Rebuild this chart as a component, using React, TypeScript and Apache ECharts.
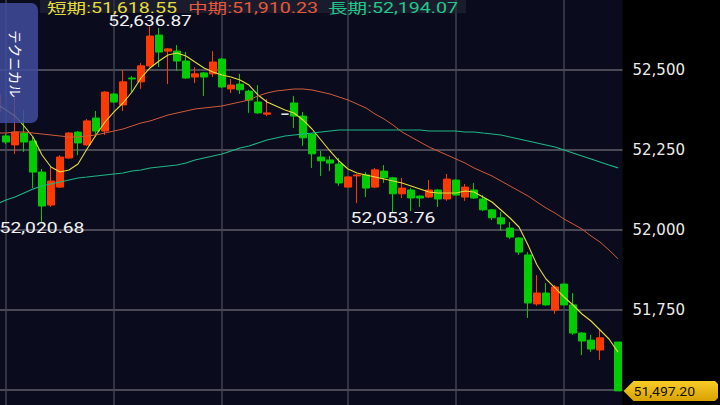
import React, { useEffect, useRef } from 'react';
import * as echarts from 'echarts';

// [open, close, low, high]; null = no bar
const ohlc: (number[] | null)[] = [
  [52369, 52422, 52362, 52428], [52294, 52275, 52269, 52300], [52266, 52306, 52238, 52422],
  [52303, 52275, 52244, 52375], [52278, 52181, 52131, 52291], [52181, 52075, 52020.68, 52191],
  [52078, 52153, 52072, 52197], [52134, 52228, 52131, 52234], [52225, 52303, 52222, 52306],
  [52306, 52272, 52234, 52309], [52266, 52341, 52263, 52347], [52350, 52309, 52291, 52372],
  [52309, 52431, 52297, 52434], [52425, 52400, 52397, 52428], [52391, 52463, 52372, 52500],
  [52475, 52472, 52428, 52481], [52463, 52513, 52441, 52522], [52513, 52606, 52509, 52636.87],
  [52609, 52556, 52509, 52631], [52559, 52566, 52456, 52569], [52559, 52528, 52497, 52578],
  [52528, 52475, 52472, 52556], [52478, 52488, 52459, 52509], [52491, 52478, 52419, 52494],
  [52488, 52525, 52478, 52559], [52534, 52447, 52444, 52538], [52441, 52453, 52428, 52472],
  [52456, 52438, 52425, 52488], [52434, 52406, 52366, 52438], [52400, 52366, 52363, 52453],
  [52362, 52366, 52356, 52409], null, [52362, 52362, 52362, 52362],
  [52397, 52356, 52319, 52419], [52356, 52288, 52263, 52369], [52300, 52238, 52194, 52303],
  [52228, 52216, 52169, 52247], [52219, 52209, 52184, 52231], [52206, 52147, 52138, 52225],
  [52134, 52166, 52133, 52167], [52169, 52172, 52084, 52175], [52172, 52131, 52103, 52181],
  [52134, 52188, 52131, 52194], [52184, 52163, 52147, 52203], [52163, 52113, 52053.76, 52166],
  [52113, 52131, 52100, 52163], [52125, 52100, 52059, 52131], [52106, 52100, 52072, 52108],
  [52103, 52125, 52100, 52156], [52125, 52097, 52072, 52128], [52097, 52159, 52091, 52175],
  [52156, 52109, 52108, 52158], [52103, 52134, 52091, 52144], [52125, 52100, 52097, 52147],
  [52097, 52063, 52059, 52109], [52063, 52038, 52031, 52066], [52038, 52019, 51997, 52056],
  [52006, 51978, 51972, 52025], [51975, 51931, 51922, 51978], [51922, 51772, 51725, 51931],
  [51769, 51803, 51763, 51859], [51803, 51766, 51763, 51834], [51750, 51822, 51738, 51828],
  [51831, 51766, 51764, 51833], [51766, 51678, 51672, 51803], [51678, 51653, 51609, 51681],
  [51656, 51628, 51619, 51672], [51625, 51663, 51594, 51691], null,
  [51650, 51497.2, 51497.2, 51650],
];

const categories = ohlc.map((_, i) => String(i + 1));

const maShort = [
  52393.8, 52375.0, 52356.3, 52325.0, 52290.6, 52234.4, 52196.9, 52181.3, 52187.5, 52206.3,
  52253.1, 52296.9, 52337.5, 52368.8, 52396.9, 52431.3, 52475.0, 52506.3, 52528.1, 52546.9,
  52553.1, 52543.8, 52525.0, 52506.3, 52493.8, 52484.4, 52478.1, 52468.8, 52453.1, 52421.9,
  52400.0, 52387.5, 52375.0, 52365.6, 52343.8, 52315.6, 52281.3, 52246.9, 52215.6, 52190.6,
  52178.1, 52171.9, 52165.6, 52159.4, 52153.1, 52146.9, 52137.5, 52128.1, 52118.8, 52115.6,
  52115.6, 52115.6, 52121.9, 52118.8, 52103.1, 52087.5, 52062.5, 52037.5, 52009.4, 51953.1,
  51890.6, 51846.9, 51818.8, 51790.6, 51765.6, 51737.5, 51715.6, 51687.5, 51659.4, 51618.55,
];

const maMid = [
  52303.1, 52303.1, 52306.3, 52306.3, 52303.1, 52300.0, 52296.9, 52293.8, 52290.6, 52290.6,
  52293.8, 52296.9, 52303.1, 52309.4, 52315.6, 52325.0, 52334.4, 52340.6, 52350.0, 52359.4,
  52365.6, 52371.9, 52378.1, 52381.3, 52384.4, 52387.5, 52393.8, 52400.0, 52406.3, 52418.8,
  52428.1, 52434.4, 52437.5, 52440.6, 52440.6, 52437.5, 52431.3, 52425.0, 52415.6, 52406.3,
  52393.8, 52381.3, 52362.5, 52346.9, 52328.1, 52306.3, 52290.6, 52275.0, 52259.4, 52246.9,
  52234.4, 52221.9, 52209.4, 52193.8, 52181.3, 52168.8, 52153.1, 52137.5, 52121.9, 52106.3,
  52087.5, 52068.8, 52053.1, 52034.4, 52018.8, 52003.1, 51981.3, 51962.5, 51937.5, 51910.23,
];

const maLong = [
  52081.3, 52093.8, 52103.1, 52115.6, 52128.1, 52137.5, 52143.8, 52150.0, 52156.3, 52162.5,
  52165.6, 52168.8, 52171.9, 52175.0, 52178.1, 52184.4, 52187.5, 52193.8, 52196.9, 52200.0,
  52203.1, 52209.4, 52218.8, 52225.0, 52231.3, 52237.5, 52246.9, 52256.3, 52262.5, 52271.9,
  52281.3, 52287.5, 52293.8, 52296.9, 52300.0, 52303.1, 52306.3, 52309.4, 52312.5, 52312.5,
  52312.5, 52312.5, 52312.5, 52312.5, 52312.5, 52312.5, 52312.5, 52312.5, 52309.4, 52309.4,
  52309.4, 52309.4, 52306.3, 52306.3, 52303.1, 52300.0, 52296.9, 52290.6, 52284.4, 52278.1,
  52271.9, 52265.6, 52259.4, 52250.0, 52240.6, 52231.3, 52221.9, 52212.5, 52203.1, 52194.07,
];

const yMin = 51500;
const yMax = 52500;
const yInterval = 250;
const lastPrice = 51497.2;
const dojiIndex = 32;
const highMarks = [{ index: 17, value: 52636.87 }];
const lowMarks = [{ index: 5, value: 52020.68 }, { index: 44, value: 52053.76 }];
const vGridIndex = [1, 13, 25, 39, 51, 63];

const UP = '#ff3a00';
const DOWN = '#00cc00';
const C_SHORT = '#e6dc3a';
const C_MID = '#cf5a3a';
const C_LONG = '#1fb585';

const fmt2 = (v: number) =>
  v.toLocaleString('en-US', { minimumFractionDigits: 2, maximumFractionDigits: 2 });

export default function App() {
  const ref = useRef<HTMLDivElement>(null);
  useEffect(() => {
    if (!ref.current) return;
    const W = 720;
    const H = 405;
    const plotRight = 622.5;
    const chart = echarts.init(ref.current, null, { renderer: 'svg' });
    const candleData = ohlc.map((d, i) => {
      if (!d) return ['-', '-', '-', '-'];
      if (i === dojiIndex)
        return {
          value: d,
          itemStyle: {
            color: '#ffffff', color0: '#ffffff', borderColor: '#ffffff',
            borderColor0: '#ffffff', borderColorDoji: '#ffffff',
          },
        };
      return d;
    });
    chart.setOption({
      animation: false,
      backgroundColor: '#000000',
      grid: {
        left: -7.5, right: W - plotRight, top: 70, bottom: 15,
        containLabel: false, outerBoundsMode: 'none',
      },
      xAxis: {
        type: 'category', data: categories, boundaryGap: true,
        axisLine: { show: false }, axisTick: { show: false },
        axisLabel: { show: false }, splitLine: { show: false },
      },
      yAxis: {
        type: 'value', position: 'right', min: yMin, max: yMax, interval: yInterval,
        axisLine: { show: false }, axisTick: { show: false },
        axisLabel: {
          color: '#ececec', fontSize: 15, fontFamily: 'DejaVu Sans', margin: 10,
          formatter: (v: number) => v.toLocaleString('en-US'),
        },
        splitLine: { lineStyle: { color: '#4a4a56', width: 2 } },
      },
      series: [
        {
          type: 'candlestick', data: candleData, barWidth: 8, clip: false,
          itemStyle: { color: UP, color0: DOWN, borderColor: UP, borderColor0: DOWN, borderWidth: 1 },
          markLine: {
            silent: true, symbol: ['none', 'none'], label: { show: false },
            lineStyle: { color: '#d9a400', type: [9, 9], width: 1.5 },
            data: [{ yAxis: lastPrice }],
          },
        },
        { type: 'line', data: maShort, symbol: 'none', clip: false, lineStyle: { color: C_SHORT, width: 1.1 } },
        { type: 'line', data: maMid, symbol: 'none', clip: false, lineStyle: { color: C_MID, width: 1 } },
        { type: 'line', data: maLong, symbol: 'none', clip: false, lineStyle: { color: C_LONG, width: 1.2 } },
      ],
    });

    const px = (i: number, v: number) =>
      chart.convertToPixel({ xAxisIndex: 0, yAxisIndex: 0 }, [i, v]) as number[];

    const elements: any[] = [
      { type: 'rect', z: -10, shape: { x: 0, y: 0, width: plotRight, height: H }, style: { fill: '#0a0c1d' }, silent: true },
    ];
    vGridIndex.forEach((i) => {
      const x = px(i, yMin)[0];
      elements.push({
        type: 'line', z: -5, silent: true,
        shape: { x1: x, y1: 0, x2: x, y2: H },
        style: { stroke: '#5a5a66', lineWidth: 1 },
      });
    });
    highMarks.forEach((m) => {
      const p = px(m.index, m.value);
      elements.push({
        type: 'text', z: 20, x: p[0], y: p[1] + 2, scaleX: 1.36, silent: true,
        style: { text: fmt2(m.value), fill: '#f2f2f2', fontSize: 14, fontFamily: 'Roboto', align: 'center', verticalAlign: 'bottom' },
      });
    });
    lowMarks.forEach((m) => {
      const p = px(m.index, m.value);
      elements.push({
        type: 'text', z: 20, x: p[0], y: p[1] - 2, scaleX: 1.38, silent: true,
        style: { text: fmt2(m.value), fill: '#f2f2f2', fontSize: 14, fontFamily: 'Roboto', align: 'center', verticalAlign: 'top' },
      });
    });
    // legend band and texts
    elements.push({ type: 'rect', z: 15, silent: true, shape: { x: 40, y: 0, width: 426, height: 13 }, style: { fill: 'rgba(40,42,60,0.55)' } });
    const legend = [
      { label: '短期', v: maShort[maShort.length - 1], c: C_SHORT, x: 47 },
      { label: '中期', v: maMid[maMid.length - 1], c: '#e8583a', x: 188 },
      { label: '長期', v: maLong[maLong.length - 1], c: '#22c88a', x: 328 },
    ];
    legend.forEach((l) => {
      elements.push({
        type: 'text', z: 20, x: l.x, y: 8, scaleX: 1.4, silent: true,
        style: {
          text: `${l.label}:${fmt2(l.v)}`, fill: l.c, fontSize: 14,
          fontFamily: "Roboto, 'Noto Sans CJK JP'", align: 'left', verticalAlign: 'middle',
        },
      });
    });
    // left tab
    elements.push({
      type: 'rect', z: 18, silent: true,
      shape: { x: -8, y: 3, width: 46, height: 120, r: 7 },
      style: { fill: 'rgba(64,76,156,0.85)' },
    });
    elements.push({
      type: 'text', z: 19, x: 16, y: 64, rotation: -Math.PI / 2, silent: true,
      style: { text: 'テクニカル', fill: '#ffffff', fontSize: 13.5, fontFamily: "'Noto Sans CJK JP'", align: 'center', verticalAlign: 'middle' },
    });
    // price tag
    const py = px(0, lastPrice)[1];
    const tx = plotRight + 1;
    elements.push({
      type: 'polygon', z: 25, silent: true,
      shape: {
        points: [
          [tx, py], [tx + 10, py - 10], [715, py - 10], [718, py - 7],
          [718, py + 7], [715, py + 10], [tx + 10, py + 10],
        ],
      },
      style: {
        fill: new echarts.graphic.LinearGradient(0, 0, 0, 1, [
          { offset: 0, color: '#f8cc2a' }, { offset: 1, color: '#d8a200' },
        ]),
      },
    });
    elements.push({
      type: 'text', z: 26, x: tx + 10, y: py, scaleX: 1.08, silent: true,
      style: { text: fmt2(lastPrice), fill: '#111111', fontSize: 13, fontFamily: 'Roboto', align: 'left', verticalAlign: 'middle' },
    });

    chart.setOption({ graphic: { elements } });
    return () => chart.dispose();
  }, []);
  return <div ref={ref} style={{ width: 720, height: 405, position: 'fixed', left: 0, top: 0 }} />;
}
